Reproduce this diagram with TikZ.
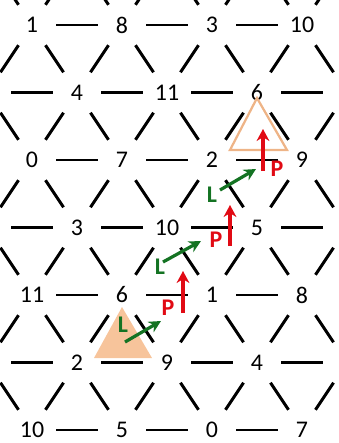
\documentclass[tikz,border=0pt]{standalone}
\usepackage{fontspec}
\setmainfont{Carlito}
\usetikzlibrary{arrows.meta}
\definecolor{leapgreen}{RGB}{20,115,35}
\definecolor{parred}{RGB}{225,10,20}
\definecolor{peach}{RGB}{247,196,155}
\definecolor{peachline}{RGB}{238,180,135}
\tikzset{
  pitch/.style={circle, minimum size=1.2cm, inner sep=0pt, font=\fontsize{17}{20}\selectfont},
  edge/.style={line width=2.1pt, black},
  lmove/.style={leapgreen, line width=2.3pt, -{Stealth[length=0.3cm, width=0.3cm]}},
  pmove/.style={parred, line width=2.5pt, -{Stealth[length=0.3cm, width=0.32cm]}},
  movelab/.style={font=\fontsize{17}{20}\selectfont\bfseries}
}

\begin{document}
\begin{tikzpicture}[x=0.025cm, y=-0.025cm]
  \useasboundingbox (0,0) rectangle (338,443);
  \clip (0,0) rectangle (338,443);
  % start chord
  \fill[peach] (122,307) -- (94,358) -- (152,358) -- cycle;
  % lattice points, pitch class from row and column
  \foreach \r in {-1,...,7}
    \foreach \c in {-1,...,7} {
      \pgfmathtruncatemacro{\odd}{mod(\r+\c+20,2)}
      \pgfmathtruncatemacro{\shown}{(\r>=0)*(\r<=6)*(\c>=0)*(\c<=6)}
      \pgfmathtruncatemacro{\pc}{mod(int(1+(11*\r-5*\c)/2+120),12)}
      \ifnum\odd=0
        \ifnum\shown=1
          \node[pitch] (v\r-\c) at (32+45*\c, 25+67.5*\r) {\pc};
        \else
          \node[pitch] (v\r-\c) at (32+45*\c, 25+67.5*\r) {};
        \fi
      \fi
    }
  % lattice edges
  \foreach \r in {-1,...,7}
    \foreach \c in {-1,...,7} {
      \pgfmathtruncatemacro{\odd}{mod(\r+\c+20,2)}
      \pgfmathtruncatemacro{\rr}{\r+1}
      \pgfmathtruncatemacro{\cl}{\c-1}
      \pgfmathtruncatemacro{\cr}{\c+1}
      \pgfmathtruncatemacro{\cc}{\c+2}
      \ifnum\odd=0
        \ifnum\cc<8 \draw[edge] (v\r-\c) -- (v\r-\cc); \fi
        \ifnum\rr<8
          \ifnum\cr<8 \draw[edge] (v\r-\c) -- (v\rr-\cr); \fi
          \ifnum\cl>-2 \draw[edge] (v\r-\c) -- (v\rr-\cl); \fi
        \fi
      \fi
    }
  % goal chord
  \draw[peachline, line width=1.6pt] (257,98) -- (230,150) -- (287,150) -- cycle;
  % L and P moves
  \coordinate (l1a) at (125,342); \coordinate (l1b) at (161,321);
  \coordinate (p1a) at (183,313); \coordinate (p1b) at (183,271);
  \coordinate (l2a) at (163,262); \coordinate (l2b) at (201,241);
  \coordinate (p2a) at (230,246); \coordinate (p2b) at (230,205);
  \coordinate (l3a) at (220,190); \coordinate (l3b) at (256,169);
  \coordinate (p3a) at (263,171); \coordinate (p3b) at (263,129);
  \foreach \m in {1,2,3} {
    \draw[lmove] (l\m a) -- (l\m b);
    \draw[pmove] (p\m a) -- (p\m b);
  }
  \node[movelab, leapgreen] (l1) at (123,325) {L};
  \node[movelab, leapgreen] (l2) at (160,267) {L};
  \node[movelab, leapgreen] (l3) at (212,195) {L};
  \node[movelab, parred] (p1) at (168,308) {P};
  \node[movelab, parred] (p2) at (216,240) {P};
  \node[movelab, parred] (p3) at (277,169) {P};
\end{tikzpicture}
\end{document}
